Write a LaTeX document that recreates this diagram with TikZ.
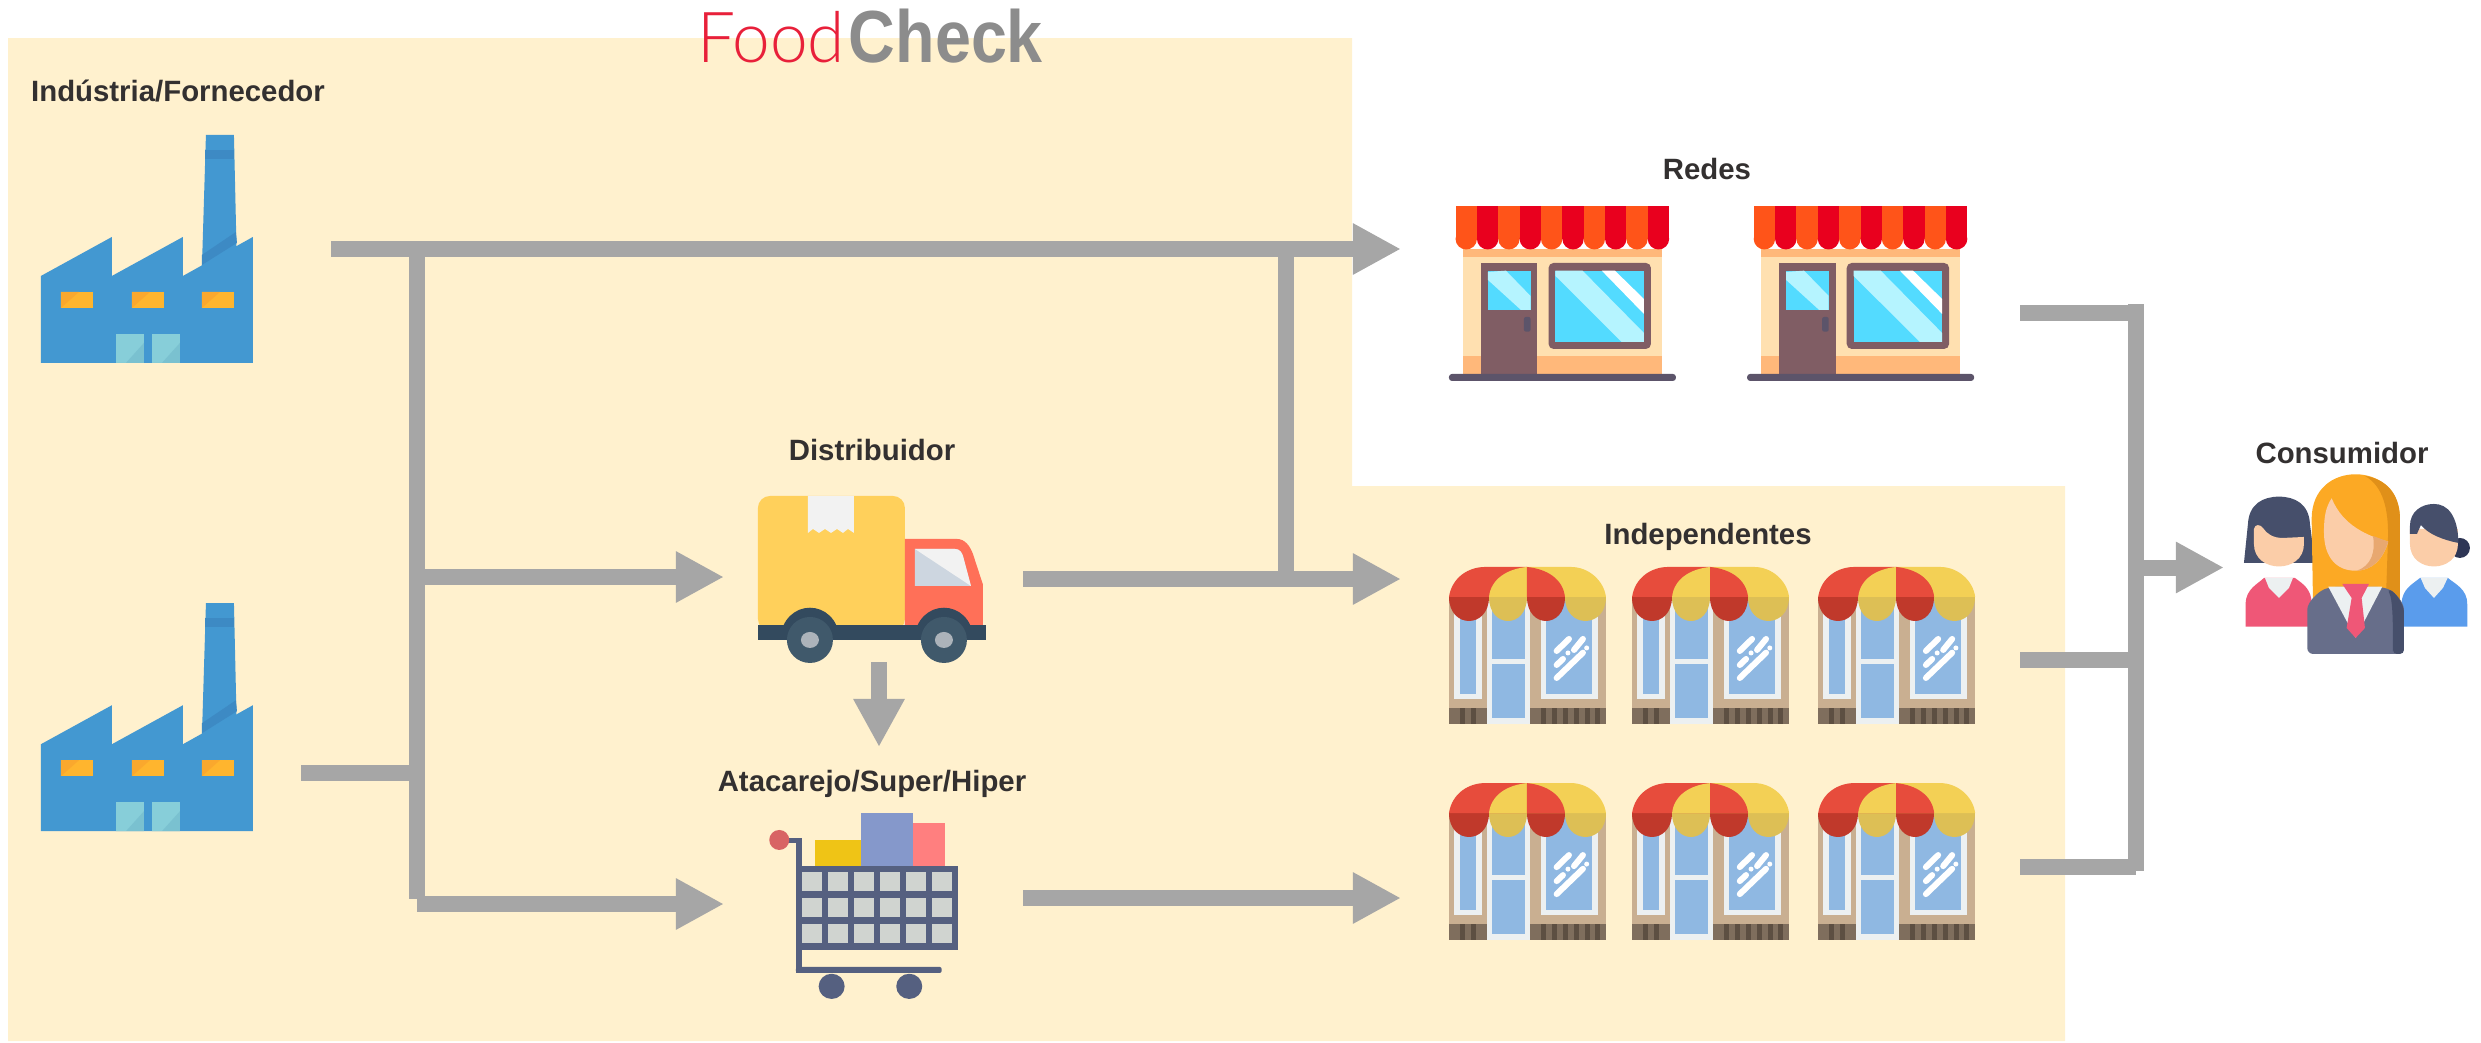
\documentclass[tikz,border=0pt]{standalone}
\usepackage{fontspec}
\usetikzlibrary{arrows.meta}
\usetikzlibrary{positioning}
\setmainfont{Liberation Sans}
\newfontfamily\foodfont[FakeStretch=0.96]{Lato Light}
\newfontfamily\checkfont[FakeStretch=0.875]{Liberation Sans}

\definecolor{cream}{HTML}{FFF1CE}
\definecolor{flowgray}{HTML}{A6A6A6}
\definecolor{textgray}{HTML}{333030}
\definecolor{foodred}{HTML}{E8203A}
\definecolor{checkgray}{HTML}{8C8C8C}
\definecolor{skin}{HTML}{FBCDA8}
\definecolor{skindark}{HTML}{E8A870}
\definecolor{navy}{HTML}{464F6B}
\definecolor{navydark}{HTML}{2E3655}
\definecolor{suit}{HTML}{676E8A}
\definecolor{hair}{HTML}{FCA924}
\definecolor{hairdark}{HTML}{E09019}
\definecolor{shirtblue}{HTML}{5A9CEC}
\definecolor{paper}{HTML}{ECF0F1}
\definecolor{rose}{HTML}{EF5777}
\definecolor{glass}{HTML}{8FB8E2}
\definecolor{fabblue}{HTML}{4398D1}
\definecolor{fabdark}{HTML}{3D8AC4}
\definecolor{fabwin}{HTML}{FFB52E}
\definecolor{fabwindark}{HTML}{FAA82D}
\definecolor{fabdoor}{HTML}{87CED9}
\definecolor{fabdoordark}{HTML}{7AC1D0}
\definecolor{cartblue}{HTML}{556080}
\definecolor{cartcell}{HTML}{D0D4D0}
\definecolor{boxyellow}{HTML}{EFC416}
\definecolor{boxblue}{HTML}{8598CB}
\definecolor{boxpink}{HTML}{FF7F7F}
\definecolor{ballred}{HTML}{D86464}
\definecolor{truckbody}{HTML}{FFD05B}
\definecolor{truckcab}{HTML}{FF7058}
\definecolor{truckdark}{HTML}{334A5E}
\definecolor{truckwheel}{HTML}{40596B}
\definecolor{truckhub}{HTML}{ACB3BA}
\definecolor{truckglass}{HTML}{CDD6E0}
\definecolor{truckpaper}{HTML}{F2F2F2}
\definecolor{doorbrown}{HTML}{805D64}
\definecolor{sidewalk}{HTML}{5C546A}
\definecolor{windowblue}{HTML}{53DBFF}
\definecolor{windowlight}{HTML}{B5F4FF}
\definecolor{stripeorange}{HTML}{FF5419}
\definecolor{stripered}{HTML}{E9001E}
\definecolor{wallband}{HTML}{FFB87A}
\definecolor{wall}{HTML}{FFE0B0}
\definecolor{lojawall}{HTML}{C9AF91}
\definecolor{lojabase}{HTML}{7F6E5D}
\definecolor{lojabar}{HTML}{5D4F42}
\definecolor{awnred}{HTML}{E74C3C}
\definecolor{awnreddark}{HTML}{C0392B}
\definecolor{awnyellow}{HTML}{F3D055}
\definecolor{awnyellowdark}{HTML}{DDBF55}

\tikzset{
  flow/.style={draw=flowgray,line width=0.16cm},
  flowarrow/.style={flow,-{Triangle[length=0.48cm,width=0.48cm]}},
  rotulo/.style={font=\bfseries\fontsize{8.35}{10}\selectfont,text=textgray,text height=0.21cm,text depth=0.06cm},
  fabbox/.style={minimum width=2.12cm,minimum height=2.28cm},
  redebox/.style={minimum width=2.27cm,minimum height=1.76cm},
  lojabox/.style={minimum width=1.57cm,minimum height=1.57cm},
  fabicon/.pic={
    \fill[fabblue] (165,0) -- (193,0) -- (196,132) -- (161,132) -- cycle;
    \fill[fabblue] (0,141) -- (71,102) -- (71,141) -- (142,102) -- (142,141) -- (212,102) -- (212,228) -- (0,228) -- cycle;
    \fill[fabdark] (164.5,15) rectangle (193.5,24);
    \fill[fabdark] (161,130) -- (161,120) -- (195,97) -- (196,108) -- cycle;
    \foreach \wx in {20,91,161} {
      \fill[fabwin] (\wx,157) rectangle ++(32,16);
      \fill[fabwindark] (\wx,157) -- ++(18,0) -- ++(-18,16) -- cycle;
    }
    \foreach \dx in {75,111} {
      \fill[fabdoor] (\dx,199) rectangle ++(28,29);
      \fill[fabdoordark] (\dx,228) -- ++(28,0) -- ++(0,-20) -- ++(-18,20) -- cycle;
    }
  },
  redeicon/.pic={
    \fill[wallband] (14,43) rectangle (213,51);
    \fill[wall] (14,51) rectangle (213,150);
    \fill[wallband] (14,150) rectangle (213,168);
    \foreach \sx/\sc in {6.6/stripeorange,28/stripered,49.3/stripeorange,70.7/stripered,92/stripeorange,113.4/stripered,134.7/stripeorange,156.1/stripered,177.4/stripeorange,198.8/stripered} {
      \fill[\sc] (\sx,0) rectangle ++(21.4,33);
      \fill[\sc] (\sx+10.7,33) ellipse [x radius=10.7,y radius=10.5];
    }
    \fill[doorbrown] (32,57) rectangle (88.5,168);
    \fill[windowblue] (39,64.7) rectangle (81.6,104);
    \fill[windowlight] (39,66) -- (57,64.7) -- (81.6,90) -- (81.6,104) -- (72,104) -- (39,74) -- cycle;
    \fill[sidewalk,rounded corners=0.02cm] (75,111) rectangle (81.6,125.7);
    \fill[doorbrown,rounded corners=0.05cm] (99.6,57) rectangle (202,143);
    \fill[windowblue] (106.5,64.7) rectangle (195,136);
    \fill[windowlight] (106.5,64.7) -- (133.6,64.7) -- (195,127) -- (195,136) -- (172.7,136) -- (106.5,70) -- cycle;
    \fill[white] (152.8,64.7) -- (166,64.7) -- (195,93) -- (195,108) -- cycle;
    \fill[sidewalk,rounded corners=0.03cm] (0,168) rectangle (227,175);
  },
  lojaicon/.pic={
    \fill[lojawall] (0,30) rectangle (157,157);
    \fill[lojabase] (0,140.7) rectangle (157,157);
    \foreach \bx in {11,22,92,103,114,125,136,146} {
      \fill[lojabar] (\bx,140.7) rectangle ++(5,16.3);
    }
    \fill[paper] (5,30) rectangle (32.7,132);
    \fill[glass] (11,30) rectangle (27,127);
    \fill[paper] (38,30) rectangle (81,157);
    \fill[glass] (43,30) rectangle (76,92);
    \fill[glass] (43,97) rectangle (76,151);
    \fill[paper] (92,30) rectangle (149,132);
    \fill[glass] (97,30) rectangle (143,127);
    \draw[white,line width=0.06cm,line cap=round] (107.7,84) -- (120,72);
    \draw[white,line width=0.06cm,line cap=round] (125,83) -- (134,72);
    \draw[white,line width=0.06cm,line cap=round] (107.7,98) -- (114,92);
    \draw[white,line width=0.06cm,line cap=round] (107.7,111) -- (134,85.7);
    \fill[white] (119,86) circle [radius=2.5];
    \fill[white] (137.7,81) circle [radius=2.5];
    \fill[awnreddark] (0,30) .. controls (0,62) and (40,62) .. (40,30) -- cycle;
    \fill[awnyellowdark] (40,30) .. controls (40,62) and (78,62) .. (78,30) -- cycle;
    \fill[awnreddark] (78,30) .. controls (78,62) and (116,62) .. (116,30) -- cycle;
    \fill[awnyellowdark] (116,30) .. controls (116,62) and (157,62) .. (157,30) -- cycle;
    \fill[awnred] (0,30) .. controls (3,10) and (20,0) .. (36,0) -- (78,0) -- (78,30) -- cycle;
    \fill[awnyellow] (40,30) .. controls (42,12) and (58,2) .. (78,0) -- (78,30) -- cycle;
    \fill[awnyellow] (78,0) -- (122,0) .. controls (140,0) and (155,14) .. (157,30) -- (78,30) -- cycle;
    \fill[awnred] (78,0) .. controls (98,2) and (114,12) .. (116,30) -- (78,30) -- cycle;
  },
  truckicon/.pic={
    \fill[truckbody,rounded corners=0.12cm] (0,135) -- (0,0) -- (147,0) -- (147,135) -- cycle;
    \fill[truckpaper] (50,0) -- (96,0) -- (96,37) -- (90,33) -- (85,37) -- (79,33) -- (73,37) -- (67,33) -- (61,37) -- (55,33) -- (50,37) -- cycle;
    \fill[truckcab] (147,43) -- (199,43) .. controls (207,43) and (212,50) .. (215,58) -- (225,88.6) -- (225,129) -- (147,129) -- cycle;
    \fill[truckglass] (157,53) -- (197,53) .. controls (202,53) and (204,57) .. (205,60) -- (213,90) -- (157,90) -- cycle;
    \fill[truckpaper] (157,53) -- (197,53) .. controls (202,53) and (204,57) .. (205,60) -- (213,90) -- cycle;
    \fill[truckdark] (0,129) rectangle (228,144.5);
    \foreach \wx in {52,186} {
      \fill[truckdark] (\wx-30,144) .. controls (\wx-27,101) and (\wx+27,101) .. (\wx+30,144) -- cycle;
      \fill[truckwheel] (\wx,144) circle [radius=23];
      \fill[truckhub] (\wx,144) ellipse [x radius=9,y radius=8];
    }
  },
  carticon/.pic={
    \fill[boxyellow] (45,27) rectangle (91,53);
    \fill[boxblue] (91,0) rectangle (142.7,53);
    \fill[boxpink] (142.7,10) rectangle (175,53);
    \fill[cartblue] (26,53) rectangle (188,137);
    \foreach \cx in {32,58,84,110,136,162} {
      \foreach \cy in {59.4,85.4,111.4} {
        \fill[cartcell] (\cx,\cy) rectangle ++(20,19);
      }
    }
    \fill[cartblue] (26,27) rectangle (32,160);
    \fill[cartblue] (9,25) rectangle (32,30);
    \fill[cartblue,rounded corners=0.02cm] (26,154) rectangle (171.7,160);
    \fill[ballred] (9.3,27) ellipse [x radius=10,y radius=10];
    \fill[cartblue] (61.7,173.4) ellipse [x radius=13,y radius=12.6];
    \fill[cartblue] (139.3,173.4) ellipse [x radius=13,y radius=12.6];
  },
  peopleicon/.pic={
    \fill[navy] (1,89) -- (5,50) .. controls (6,30) and (20,22.7) .. (36,22.7) .. controls (52,22.7) and (66,30) .. (67,50) -- (72,89) -- cycle;
    \fill[skin] (11,70) -- (11,55) .. controls (12,50) and (17,50) .. (20,54) .. controls (24,60) and (30,64) .. (40,64) -- (61,63) -- (61,70) .. controls (61,100) and (11,100) .. (11,70) -- cycle;
    \fill[rose] (2.7,152.7) -- (2.7,130) .. controls (2.7,115) and (15,110) .. (21,104) -- (52,104) .. controls (60,110) and (68.7,115) .. (68.7,130) -- (68.7,152.7) -- cycle;
    \fill[paper] (22,104) -- (50,104) -- (46,114) -- (36,124) -- (26,114) -- cycle;
    \fill[navydark] (217,74) circle [radius=10];
    \fill[skin] (167,55) -- (167,70) .. controls (167,100) and (215,100) .. (215,70) -- (215,55) -- cycle;
    \fill[navy] (167,60) -- (167,52) .. controls (167,38) and (178,30) .. (191,30) .. controls (205,30) and (215,42) .. (215.5,69) .. controls (200,66) and (185,60) .. (178,51) -- (174,60) -- cycle;
    \fill[shirtblue] (158.7,152.7) -- (158.7,130) .. controls (158.7,115) and (170,110) .. (177,104) -- (205,104) .. controls (212,110) and (224.3,115) .. (224.3,130) -- (224.3,152.7) -- cycle;
    \fill[paper] (177.7,104) -- (204.7,104) -- (200,114) -- (191,124) -- (182,114) -- cycle;
    \fill[hair] (70,125) -- (68.7,45) .. controls (68.7,15) and (90,0.3) .. (112.7,0.3) .. controls (135,0.3) and (157,15) .. (157,45) -- (157,125) -- cycle;
    \fill[hairdark] (122,2) .. controls (148,6) and (157,25) .. (157,45) -- (157,125) -- (143,125) -- (145,66) .. controls (146,35) and (140,12) .. (122,2) -- cycle;
    \fill[skin] (88.7,24.3) .. controls (83,33) and (81,42) .. (81,58) .. controls (81,85) and (95,96.7) .. (112,96.7) .. controls (130,96.7) and (140,85) .. (145.3,67.7) .. controls (125,62) and (100,52) .. (88.7,24.3) -- cycle;
    \fill[skindark] (130,62) -- (145.3,67.7) .. controls (140,85) and (130,96) .. (114,96.7) .. controls (128,92) and (133,78) .. (130,62) -- cycle;
    \fill[suit,rounded corners=0.06cm] (64.3,180) -- (64.3,142) .. controls (64.3,128) and (75,118) .. (87,113) -- (140,113) .. controls (152,118) and (161,128) .. (161,142) -- (161,180) -- cycle;
    \fill[navy,rounded corners=0.04cm] (150,180) -- (161,180) -- (161,142) .. controls (161,130) and (152,118) .. (144,115) .. controls (150,125) and (150,150) .. (150,180) -- cycle;
    \fill[paper] (85.3,112.7) -- (139.3,112.7) -- (112.7,164) -- cycle;
    \fill[rose] (99.3,110) -- (126,110) -- (118.7,124) -- (122,154) -- (112.7,164) -- (103.7,154) -- (108.7,124) -- cycle;
  },
}

\begin{document}
\begin{tikzpicture} [x=0.01cm,y=-0.01cm,every node/.style={inner sep=0pt,outer sep=0pt}]
\useasboundingbox (0,0) rectangle (2481,1042);
\fill[cream] (8,38) -- (1352,38) -- (1352,486) -- (2065,486) -- (2065,1041) -- (8,1041) -- cycle;

\node (logo) [anchor=base] at (870,62) {{\foodfont\fontsize{20}{20}\selectfont\color{foodred}Food}\hspace{0.04cm}{\checkfont\bfseries\fontsize{21}{21}\selectfont\color{checkgray}Check}};

\node (fabA) [fabbox] at (147,249) {};
\node (fabB) [fabbox,below=2.4cm of fabA] {};
\node (truck) [minimum width=2.28cm,minimum height=1.66cm] at (872,579) {};
\node (cart) [minimum width=1.88cm,minimum height=1.86cm] at (864,906) {};
\node (redeA) [redebox] at (1562.5,294) {};
\node (redeB) [redebox,right=0.71cm of redeA] {};
\node (lojaA) [lojabox] at (1527.5,645.5) {};
\node (lojaB) [lojabox,right=0.26cm of lojaA] {};
\node (lojaC) [lojabox,right=0.29cm of lojaB] {};
\node (lojaD) [lojabox,below=0.59cm of lojaA] {};
\node (lojaE) [lojabox,right=0.26cm of lojaD] {};
\node (lojaF) [lojabox,right=0.29cm of lojaE] {};
\node (people) [minimum width=2.27cm,minimum height=1.8cm] at (2356.5,564) {};

\foreach \n in {fabA,fabB} \pic at (\n.north west) {fabicon};
\foreach \n in {redeA,redeB} \pic at (\n.north west) {redeicon};
\foreach \n in {lojaA,lojaB,lojaC,lojaD,lojaE,lojaF} \pic at (\n.north west) {lojaicon};
\pic at (truck.north west) {truckicon};
\pic at (cart.north west) {carticon};
\pic at (people.north west) {peopleicon};

\node (industria) [rotulo,anchor=base] at (178,101) {Indústria/Fornecedor};
\node (distribuidor) [rotulo,above=0.29cm of truck] {Distribuidor};
\node (atacarejo) [rotulo,anchor=base] at (872,791) {Atacarejo/Super/Hiper};
\node (redes) [rotulo,anchor=base] at (1707,179) {Redes};
\node (independentes) [rotulo,anchor=base] at (1708,544.6) {Independentes};
\node (consumidor) [rotulo,anchor=base] at (2342,463) {Consumidor};

\coordinate (trunkTop) at (417,249);
\coordinate (trunkMid) at (417,577);
\coordinate (trunkFab) at (417,772.7);
\coordinate (trunkEnd) at (417,899);
\coordinate (trunkLow) at (417,904);
\coordinate (branchTop) at (1285.5,249);
\coordinate (cartOut) at (1023,898);
\coordinate (busTop) at (2136,304);
\coordinate (busEnd) at (2136,871);
\coordinate (joinA) at (2136,313);
\coordinate (joinB) at (2136,660);
\coordinate (joinC) at (2136,866.5);
\coordinate (joinOut) at (2136,567.5);

\draw[flow](trunkTop)--(trunkEnd);
\draw[flow](branchTop)--(branchTop |- truck.east);
\draw[flow](busTop)--(busEnd);
\draw[flowarrow,shorten <=0.78cm,shorten >=0.48cm](fabA.east)--(fabA.east -| redeA.west);
\draw[flow,shorten <=0.48cm](trunkFab -| fabB.east)--(trunkFab);
\draw[flowarrow,shorten >=0.34cm](trunkMid)--(trunkMid -| truck.west);
\draw[flowarrow,shorten >=0.46cm](trunkLow)--(trunkLow -| cart.west);
\draw[flowarrow,shorten <=0.37cm,shorten >=0.48cm](truck.east)--(truck.east -| lojaA.west);
\draw[flowarrow,shorten >=0.23cm]([xshift=0.07cm]truck.south)--([xshift=0.07cm]atacarejo.north);
\draw[flowarrow,shorten >=0.48cm](cartOut)--(cartOut -| lojaD.west);
\draw[flow,shorten <=0.46cm](joinA -| redeB.east)--(joinA);
\draw[flow,shorten <=0.45cm](joinB -| lojaC.east)--(joinB);
\draw[flow,shorten <=0.45cm](joinC -| lojaF.east)--(joinC);
\draw[flowarrow,shorten >=0.19cm](joinOut)--(joinOut -| people.west);
\end{tikzpicture}
\end{document}
